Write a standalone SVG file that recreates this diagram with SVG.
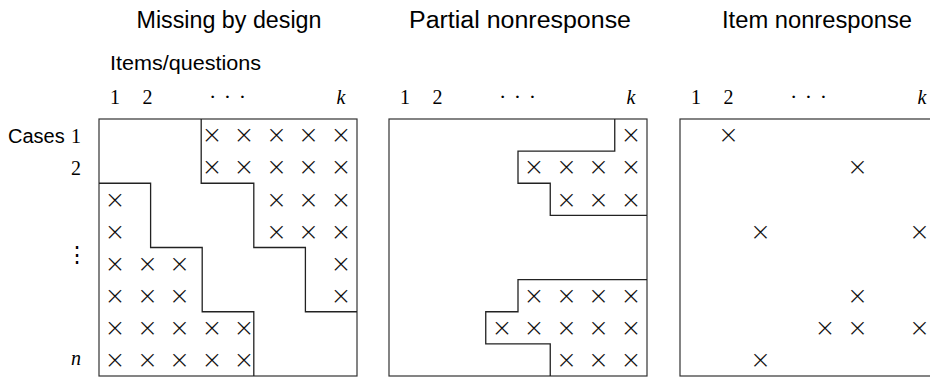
<svg xmlns="http://www.w3.org/2000/svg" width="930" height="377" viewBox="0 0 930 377">
  <defs>
    <style>
      .title { font-family: "Liberation Sans", Arial, sans-serif; font-size: 23px; fill: #000; text-anchor: middle; }
      .lab { font-family: "Liberation Sans", Arial, sans-serif; font-size: 20px; fill: #000; }
      .num { font-family: "Liberation Serif", "Times New Roman", serif; font-size: 20px; fill: #000; text-anchor: middle; }
      .it { font-style: italic; }
      .vdots { font-family: "DejaVu Serif", serif; font-size: 22px; fill: #000; text-anchor: middle; }
      .dots { font-family: "Liberation Serif", "Times New Roman", serif; font-size: 22px; fill: #000; text-anchor: middle; letter-spacing: 1px; }
      .x { font-family: "DejaVu Sans", sans-serif; font-weight: 200; font-size: 25px; fill: #111; text-anchor: middle; }
      .x.edge { text-anchor: end; }
      .box { fill: none; stroke: #333; stroke-width: 1.2; }
      .step { fill: none; stroke: #222; stroke-width: 1.3; }
    </style>
  </defs>
  <rect width="930" height="377" fill="#fff"/>

  <!-- row labels shared by all three matrices -->
  <g id="row-labels">
    <text class="lab" x="8" y="143">Cases</text>
    <text class="num" x="76" y="143">1</text>
    <text class="num" x="76" y="174.5">2</text>
    <text class="vdots" x="77" y="262">⋮</text>
    <text class="num it" x="76" y="365">n</text>
  </g>

  <!-- Panel 1: missing by design (five column blocks, two rows each) -->
  <g id="panel-design">
    <text class="title" x="229" y="28" textLength="185" lengthAdjust="spacingAndGlyphs">Missing by design</text>
    <text class="lab" x="110" y="70" textLength="151" lengthAdjust="spacingAndGlyphs">Items/questions</text>
    <text class="num" x="115.1" y="104">1</text>
    <text class="num" x="147.4" y="104">2</text>
    <text class="dots" x="228" y="104">· · ·</text>
    <text class="num it" x="340.9" y="104">k</text>
    <rect class="box" x="99" y="119" width="258" height="257"/>
    <path class="step" d="M201.2,119 V183.25 H253.8 V247.5 H305.4 V311.75 H357"/>
    <path class="step" d="M99,183.25 H150.6 V247.5 H202.2 V311.75 H253.8 V376"/>
    <!-- marks sit on row centres; the group shift puts the glyph centre there -->
    <g id="marks-design" transform="translate(0,8.3)">
      <!-- rows 1-2: columns 4-8 -->
      <text class="x" x="211.9" y="135.1">×</text><text class="x" x="244.1" y="135.1">×</text><text class="x" x="276.4" y="135.1">×</text><text class="x" x="308.6" y="135.1">×</text><text class="x" x="340.9" y="135.1">×</text>
      <text class="x" x="211.9" y="167.2">×</text><text class="x" x="244.1" y="167.2">×</text><text class="x" x="276.4" y="167.2">×</text><text class="x" x="308.6" y="167.2">×</text><text class="x" x="340.9" y="167.2">×</text>
      <!-- rows 3-4: column 1 and columns 6-8 -->
      <text class="x" x="115.1" y="199.3">×</text><text class="x" x="276.4" y="199.3">×</text><text class="x" x="308.6" y="199.3">×</text><text class="x" x="340.9" y="199.3">×</text>
      <text class="x" x="115.1" y="231.4">×</text><text class="x" x="276.4" y="231.4">×</text><text class="x" x="308.6" y="231.4">×</text><text class="x" x="340.9" y="231.4">×</text>
      <!-- rows 5-6: columns 1-3 and column 8 -->
      <text class="x" x="115.1" y="263.6">×</text><text class="x" x="147.4" y="263.6">×</text><text class="x" x="179.6" y="263.6">×</text><text class="x" x="340.9" y="263.6">×</text>
      <text class="x" x="115.1" y="295.7">×</text><text class="x" x="147.4" y="295.7">×</text><text class="x" x="179.6" y="295.7">×</text><text class="x" x="340.9" y="295.7">×</text>
      <!-- rows 7-8: columns 1-5 -->
      <text class="x" x="115.1" y="327.8">×</text><text class="x" x="147.4" y="327.8">×</text><text class="x" x="179.6" y="327.8">×</text><text class="x" x="211.9" y="327.8">×</text><text class="x" x="244.1" y="327.8">×</text>
      <text class="x" x="115.1" y="359.9">×</text><text class="x" x="147.4" y="359.9">×</text><text class="x" x="179.6" y="359.9">×</text><text class="x" x="211.9" y="359.9">×</text><text class="x" x="244.1" y="359.9">×</text>
    </g>
  </g>

  <!-- Panel 2: partial nonresponse -->
  <g id="panel-partial">
    <text class="title" x="520" y="28" textLength="222" lengthAdjust="spacingAndGlyphs">Partial nonresponse</text>
    <text class="num" x="405.1" y="104">1</text>
    <text class="num" x="437.4" y="104">2</text>
    <text class="dots" x="518" y="104">· · ·</text>
    <text class="num it" x="630.9" y="104">k</text>
    <rect class="box" x="389" y="119" width="258" height="257"/>
    <path class="step" d="M614.75,119 V151.1 H518 V183.25 H550.25 V215.4 H647"/>
    <path class="step" d="M647,279.6 H518 V311.75 H485.75 V343.9 H550.25 V376"/>
    <g id="marks-partial" transform="translate(0,8.3)">
      <text class="x" x="630.9" y="135.1">×</text>
      <text class="x" x="534.1" y="167.2">×</text><text class="x" x="566.4" y="167.2">×</text><text class="x" x="598.6" y="167.2">×</text><text class="x" x="630.9" y="167.2">×</text>
      <text class="x" x="566.4" y="199.3">×</text><text class="x" x="598.6" y="199.3">×</text><text class="x" x="630.9" y="199.3">×</text>
      <text class="x" x="534.1" y="295.7">×</text><text class="x" x="566.4" y="295.7">×</text><text class="x" x="598.6" y="295.7">×</text><text class="x" x="630.9" y="295.7">×</text>
      <text class="x" x="501.9" y="327.8">×</text><text class="x" x="534.1" y="327.8">×</text><text class="x" x="566.4" y="327.8">×</text><text class="x" x="598.6" y="327.8">×</text><text class="x" x="630.9" y="327.8">×</text>
      <text class="x" x="566.4" y="359.9">×</text><text class="x" x="598.6" y="359.9">×</text><text class="x" x="630.9" y="359.9">×</text>
    </g>
  </g>

  <!-- Panel 3: item nonresponse (scattered cells; the right side runs past the page) -->
  <g id="panel-item">
    <text class="title" x="817" y="28" textLength="190" lengthAdjust="spacingAndGlyphs">Item nonresponse</text>
    <text class="num" x="696.1" y="104">1</text>
    <text class="num" x="728.4" y="104">2</text>
    <text class="dots" x="809" y="104">· · ·</text>
    <text class="num it" x="921.9" y="104">k</text>
    <rect class="box" x="680" y="119" width="258" height="257"/>
    <g id="marks-item" transform="translate(0,8.3)">
      <text class="x" x="728.4" y="135.1">×</text>
      <text class="x" x="857.4" y="167.2">×</text>
      <text class="x" x="760.6" y="231.4">×</text><text class="x edge" x="930" y="231.4">×</text>
      <text class="x" x="857.4" y="295.7">×</text>
      <text class="x" x="825.1" y="327.8">×</text><text class="x" x="857.4" y="327.8">×</text><text class="x edge" x="930" y="327.8">×</text>
      <text class="x" x="760.6" y="359.9">×</text>
    </g>
  </g>
</svg>
